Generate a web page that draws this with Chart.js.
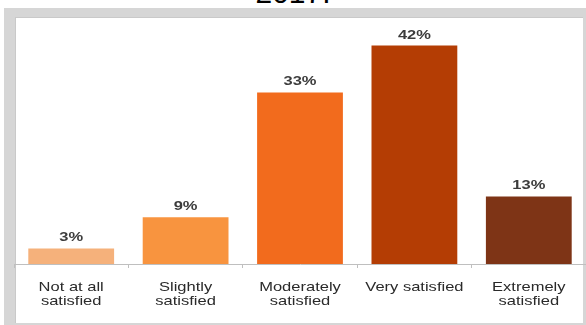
<!DOCTYPE html>
<html>
<head>
<meta charset="utf-8">
<script src="https://cdn.jsdelivr.net/npm/chart.js@4"></script>
<style>
  body { margin: 0; background: #fff; }
  #wrap { position: relative; width: 586px; height: 325px; overflow: hidden; }
  #title { position: absolute; left: 0; width: 586px; top: -24px; text-align: center;
           font: 30px Arial, "Liberation Sans", sans-serif; color: #000; }
  #frame { position: absolute; left: 4px; top: 8px; width: 582px; height: 317px; background: #d6d6d6; }
  #panel { position: absolute; left: 11px; top: 9px; width: 567px; height: 305px; background: #fff;
           border-left: 1px solid #c9c9c9; border-top: 1px solid #c9c9c9; }
  canvas { position: absolute; left: 0; top: 0; }
</style>
</head>
<body>
<div id="wrap">
  <div id="title">2017:</div>
  <div id="frame"><div id="panel"></div></div>
  <canvas id="satisfactionChart" width="586" height="325"></canvas>
</div>
<script>
// Satisfaction survey results, percent of respondents
const categories = [['Not at all', 'satisfied'], ['Slightly', 'satisfied'], ['Moderately', 'satisfied'], ['Very satisfied'], ['Extremely', 'satisfied']];
const values = [3, 9, 33, 42, 13];
const barColors = ['#f5b17b', '#f8943f', '#f26b1d', '#b43d04', '#7e3416'];

// the source picture is stretched sideways, so text is widened to match
const stretch = 1.27;
const fontFamily = 'Arial, "Liberation Sans", sans-serif';

function drawWide(ctx, text, x, y) {
    ctx.save();
    ctx.translate(x, y);
    ctx.scale(stretch, 1);
    ctx.fillText(text, 0, 0);
    ctx.restore();
}

// value labels above bars + the category labels under the axis
const textLabels = {
    id: 'textLabels',
    afterDraw(chart) {
        const ctx = chart.ctx;
        const meta = chart.getDatasetMeta(0);
        const xScale = chart.scales.x;
        ctx.save();
        ctx.textAlign = 'center';
        ctx.textBaseline = 'alphabetic';

        ctx.font = 'bold 13px ' + fontFamily;
        ctx.fillStyle = '#3c3c3c';
        meta.data.forEach(function (bar, i) {
            drawWide(ctx, values[i] + '%', bar.x, bar.y - 7);
        });

        ctx.font = '13px ' + fontFamily;
        ctx.fillStyle = '#2a2a2a';
        categories.forEach(function (lines, i) {
            const x = xScale.getPixelForTick(i);
            lines.forEach(function (line, j) {
                drawWide(ctx, line, x, xScale.top + 27 + j * 14);
            });
        });
        ctx.restore();
    }
};

const ctx = document.getElementById('satisfactionChart').getContext('2d');
const satisfactionChart = new Chart(ctx, {
    type: 'bar',
    data: {
        labels: categories,
        datasets: [{
            data: values,
            backgroundColor: barColors,
            barPercentage: 0.75,
            categoryPercentage: 1
        }]
    },
    options: {
        responsive: false,
        animation: false,
        layout: { padding: { left: 14, right: 0, top: 30, bottom: 57 } },
        plugins: {
            legend: { display: false },
            tooltip: { enabled: false }
        },
        scales: {
            x: {
                border: { color: '#bfbfbf' },
                grid: { drawOnChartArea: false, color: '#bfbfbf', tickLength: 4 },
                ticks: { display: false }
            },
            y: {
                display: false,
                beginAtZero: true,
                min: 0,
                max: 45
            }
        }
    },
    plugins: [textLabels]
});
</script>
</body>
</html>
